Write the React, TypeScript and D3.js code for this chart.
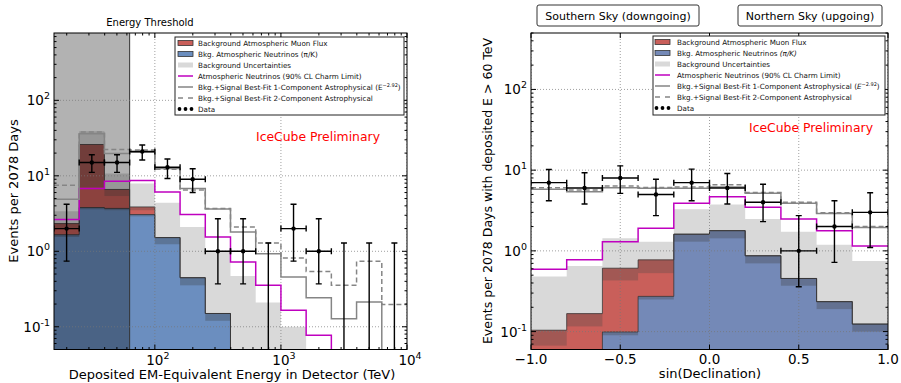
import * as d3 from "d3";

// ---------- left panel: deposited energy (TeV), 0.2-decade bins ----------
const energyEdges = [15.85, 25.12, 39.81, 63.1, 100, 158.5, 251.2, 398.1, 631, 1000, 1585, 2512, 3981, 6310, 10000];
const eNuHi = [1.66, 3.8, 3.7, 3.07, 1.52, 0.447, 0.15, 0, 0, 0, 0, 0, 0, 0];
const eNuLo = [1.55, 3.6, 3.5, 2.9, 1.24, 0.354, 0.12, 0, 0, 0, 0, 0, 0, 0];
const eTotHi = [2.33, 26, 6.6, 3.87, 1.52, 0.447, 0.15, 0, 0, 0, 0, 0, 0, 0];
const eTotLo = [1.98, 7, 5.4, 3.5, 1.24, 0.354, 0.12, 0, 0, 0, 0, 0, 0, 0];
const eUnc = [3.4, 39, 10.7, 7.9, 4.4, 2.1, 1.0, 0.47, 0.21, 0.1, 0.04, 0.02, 0.01, 0.01];
const eCharm = [2.63, 6.8, 8.5, 8.65, 6.1, 3.07, 1.55, 0.72, 0.354, 0.165, 0.077, 0.03, 0.015, 0.008];
const eFit1 = [4.9, 36, 19.8, 20.5, 12.5, 6.8, 3.64, 1.8, 0.93, 0.456, 0.243, 0.128, 0.213, 0.02];
const eFit2 = [7.5, 38, 22.3, 22, 12.2, 6.5, 3.7, 2.1, 1.29, 0.815, 0.54, 0.354, 0.737, 0.198];
const eData = [2, 15, 15, 21, 13, 9, 1, 1, 0, 2, 1, 0, 0, 0];
const eErrLo = [0.74, 11.1, 11.1, 16.2, 9.2, 6.0, 0.37, 0.37, 0, 0.74, 0.37, 0, 0, 0];
const eErrHi = [4.2, 19, 19, 25.6, 16.7, 12.4, 2.7, 2.7, 1.29, 4.2, 2.7, 1.29, 1.29, 1.29];
const energyThreshold = 63.1;
const eXTicks = [100, 1000, 10000];

// ---------- right panel: sin(declination) ----------
const decEdges = [-1, -0.8, -0.6, -0.4, -0.2, 0, 0.2, 0.4, 0.6, 0.8, 1];
const dNuHi = [0, 0, 0.099, 0.273, 1.61, 1.78, 0.87, 0.455, 0.235, 0.124];
const dNuLo = [0, 0, 0.09, 0.25, 1.3, 1.43, 0.7, 0.37, 0.19, 0.1];
const dTotHi = [0.104, 0.167, 0.61, 0.774, 1.61, 1.78, 0.87, 0.455, 0.235, 0.124];
const dTotLo = [0.067, 0.116, 0.43, 0.53, 1.3, 1.43, 0.7, 0.37, 0.19, 0.1];
const dUnc = [0.48, 0.65, 1.43, 1.3, 3.27, 3.75, 2.48, 1.73, 1.19, 0.75];
const dCharm = [0.59, 0.774, 1.3, 1.9, 3.88, 4.68, 3.46, 2.48, 1.78, 1.15];
const dFit1 = [5.78, 5.4, 6.05, 5.95, 5.95, 6.2, 5.16, 3.88, 2.9, 1.95];
const dFit2 = [6.05, 5.66, 6.35, 6.1, 6.2, 6.6, 5.3, 4.0, 2.97, 2.0];
const dData = [7, 6, 8, 5, 7, 6, 4, 1, 2, 3];
const dErrLo = [4.17, 3.8, 5.16, 2.73, 4.17, 3.8, 2.3, 0.36, 0.72, 1.1];
const dErrHi = [10.2, 9.3, 11.3, 7.7, 10.3, 9.1, 6.7, 2.73, 4.17, 5.25];
const dXTicks = [-1, -0.5, 0, 0.5, 1];

const yExponents = [-1, 0, 1, 2];
const legendLabels = [
  "Background Atmospheric Muon Flux",
  "Bkg. Atmospheric Neutrinos ",
  "Background Uncertainties",
  "Atmospheric Neutrinos (90% CL Charm Limit)",
  "Bkg.+Signal Best-Fit 1-Component Astrophysical (",
  "Bkg.+Signal Best-Fit 2-Component Astrophysical",
  "Data",
];

const FONT = "'DejaVu Sans', 'Bitstream Vera Sans', sans-serif";
const TOP = 33, BOT = 349.5;
const RED = "#c95f5a", GREY_BAND = "#d9d9d9", MAGENTA = "#bf00bf", FIT = "#858585";

interface S {
  nuHi: number[]; nuLo: number[]; totHi: number[]; totLo: number[];
  unc: number[]; charm: number[]; fit1: number[]; fit2: number[];
  data: number[]; lo: number[]; hi: number[];
}

function Panel({ x, y, edges, centers, s, blue, id, logX, threshold }: {
  x: any; y: d3.ScaleLogarithmic<number, number>; edges: number[]; centers: number[];
  s: S; blue: string; id: string; logX: boolean; threshold?: number;
}) {
  const [L, R] = x.range() as number[];
  const below = BOT + 30;
  const yv = (v: number) => (v > 0 ? Math.min(y(v), below) : below);
  const step = (vals: number[]) =>
    vals.map((v, i) => (i ? `V${yv(v)}` : `M${x(edges[0])},${yv(v)}`) + `H${x(edges[i + 1])}`).join("");
  const area = (vals: number[]) =>
    `M${x(edges[0])},${below}` + vals.map((v, i) => `V${yv(v)}H${x(edges[i + 1])}`).join("") + `V${below}Z`;
  const bands = (hi: number[], lo: number[], fill: string, op: number) =>
    hi.map((h, i) =>
      h > 0 && h > lo[i] ? (
        <rect key={i} x={x(edges[i])} width={x(edges[i + 1]) - x(edges[i])} y={yv(h)}
          height={yv(lo[i]) - yv(h)} fill={fill} opacity={op} />
      ) : null);

  // tick positions
  const [d0, d1] = y.domain();
  const yMajor = yExponents.map(e => Math.pow(10, e)).filter(v => v >= d0 && v <= d1);
  const yMinor: number[] = [];
  for (let e = -2; e <= 3; e++) for (let m = 2; m <= 9; m++) {
    const v = m * Math.pow(10, e);
    if (v >= d0 && v <= d1) yMinor.push(v);
  }
  const xDom = x.domain() as number[];
  const xMajor = logX ? eXTicks : dXTicks;
  const xMinor: number[] = [];
  if (logX) for (let e = 1; e <= 3; e++) for (let m = 2; m <= 9; m++) {
    const v = m * Math.pow(10, e);
    if (v >= xDom[0] && v <= xDom[1]) xMinor.push(v);
  }

  const cap = 3;
  return (
    <g>
      <defs>
        <clipPath id={id}><rect x={L} y={TOP} width={R - L} height={BOT - TOP} /></clipPath>
      </defs>
      <rect x={L} y={TOP} width={R - L} height={BOT - TOP} fill="#fff" />
      <g clipPath={`url(#${id})`}>
        <path d={area(s.unc)} fill={GREY_BAND} />
        <path d={area(s.totHi)} fill={RED} />
        {bands(s.totHi, s.totLo, "#4a4a4a", 0.3)}
        <path d={area(s.nuHi)} fill={blue} />
        {bands(s.nuHi, s.nuLo, "#3a3a3a", 0.3)}
        <path d={step(s.totHi)} fill="none" stroke="#333" strokeOpacity={0.75} strokeWidth={1} />
        <path d={step(s.nuHi)} fill="none" stroke="#333" strokeOpacity={0.75} strokeWidth={1} />
        {threshold !== undefined && (
          <g>
            <rect x={L} y={TOP} width={x(threshold) - L} height={BOT - TOP} fill="#000" opacity={0.3} />
            <line x1={x(threshold)} x2={x(threshold)} y1={TOP} y2={BOT} stroke="#333" strokeWidth={1} />
          </g>
        )}
        {yMajor.map(v => (
          <line key={"gy" + v} x1={L} x2={R} y1={y(v)} y2={y(v)} stroke="#777" strokeWidth={0.7} strokeDasharray="1,2" />
        ))}
        {xMajor.map(v => (
          <line key={"gx" + v} x1={x(v)} x2={x(v)} y1={TOP} y2={BOT} stroke="#777" strokeWidth={0.7} strokeDasharray="1,2" />
        ))}
        <path d={step(s.charm)} fill="none" stroke={MAGENTA} strokeWidth={1.5} />
        <path d={step(s.fit1)} fill="none" stroke={FIT} strokeWidth={1.5} />
        <path d={step(s.fit2)} fill="none" stroke={FIT} strokeWidth={1.5} strokeDasharray="5,3" />
        {s.data.map((d, i) => {
          const cx = x(centers[i]);
          const yt = y(s.hi[i]);
          if (d === 0) {
            return (
              <g key={"d" + i} stroke="#000" strokeWidth={1.4}>
                <line x1={cx} x2={cx} y1={below} y2={yt} />
                <line x1={cx - cap} x2={cx + cap} y1={yt} y2={yt} />
              </g>
            );
          }
          const yb = y(s.lo[i]), yc = y(d), xa = x(edges[i]), xb = x(edges[i + 1]);
          return (
            <g key={"d" + i} stroke="#000" strokeWidth={1.4}>
              <line x1={xa} x2={xb} y1={yc} y2={yc} />
              <line x1={xa} x2={xa} y1={yc - cap} y2={yc + cap} />
              <line x1={xb} x2={xb} y1={yc - cap} y2={yc + cap} />
              <line x1={cx} x2={cx} y1={yb} y2={yt} />
              <line x1={cx - cap} x2={cx + cap} y1={yt} y2={yt} />
              <line x1={cx - cap} x2={cx + cap} y1={yb} y2={yb} />
              <circle cx={cx} cy={yc} r={2.2} fill="#000" stroke="none" />
            </g>
          );
        })}
      </g>
      {/* ticks */}
      <g stroke="#000" strokeWidth={1}>
        {yMajor.map(v => (
          <g key={"ty" + v}>
            <line x1={L} x2={L + 5} y1={y(v)} y2={y(v)} />
            <line x1={R} x2={R - 5} y1={y(v)} y2={y(v)} />
          </g>
        ))}
        {yMinor.map(v => (
          <g key={"tmy" + v}>
            <line x1={L} x2={L + 2.5} y1={y(v)} y2={y(v)} />
            <line x1={R} x2={R - 2.5} y1={y(v)} y2={y(v)} />
          </g>
        ))}
        {xMajor.map(v => (
          <g key={"tx" + v}>
            <line x1={x(v)} x2={x(v)} y1={BOT} y2={BOT - 5} />
            <line x1={x(v)} x2={x(v)} y1={TOP} y2={TOP + 5} />
          </g>
        ))}
        {xMinor.map(v => (
          <g key={"tmx" + v}>
            <line x1={x(v)} x2={x(v)} y1={BOT} y2={BOT - 2.5} />
            <line x1={x(v)} x2={x(v)} y1={TOP} y2={TOP + 2.5} />
          </g>
        ))}
      </g>
      <rect x={L} y={TOP} width={R - L} height={BOT - TOP} fill="none" stroke="#000" strokeWidth={1} />
      {/* tick labels */}
      <g fontSize={13.5} fill="#000">
        {yMajor.map(v => (
          <text key={"ly" + v} x={L - 4} y={y(v) + 5} textAnchor="end">
            10<tspan dy={-6} fontSize={9.5}>{Math.round(Math.log10(v)) < 0 ? "-" + Math.abs(Math.round(Math.log10(v))) : Math.round(Math.log10(v))}</tspan>
          </text>
        ))}
        {logX
          ? xMajor.map(v => (
            <text key={"lx" + v} x={x(v) + 3} y={BOT + 15} textAnchor="middle">
              10<tspan dy={-6} fontSize={9.5}>{Math.round(Math.log10(v))}</tspan>
            </text>
          ))
          : xMajor.map(v => (
            <text key={"lx" + v} x={x(v)} y={BOT + 14} textAnchor="middle">
              {(v < 0 ? "\u2212" : "") + Math.abs(v).toFixed(1)}
            </text>
          ))}
      </g>
    </g>
  );
}

function Legend({ x0, y0, w, h, hx, tx, blue, italic }: {
  x0: number; y0: number; w: number; h: number; hx: number; tx: number; blue: string; italic: boolean;
}) {
  const rowY = (i: number) => y0 + 6 + i * 11;
  return (
    <g fontSize={7.2} fill="#111">
      <rect x={x0} y={y0} width={w} height={h} fill="#fff" stroke="#222" strokeWidth={1} />
      <rect x={hx} y={rowY(0) - 2.5} width={15} height={5} fill={RED} stroke="#333" strokeWidth={0.8} />
      <rect x={hx} y={rowY(1) - 2.5} width={15} height={5} fill={blue} stroke="#333" strokeWidth={0.8} />
      <rect x={hx} y={rowY(2) - 2.5} width={15} height={5} fill={GREY_BAND} />
      <line x1={hx} x2={hx + 15} y1={rowY(3)} y2={rowY(3)} stroke={MAGENTA} strokeWidth={1.5} />
      <line x1={hx} x2={hx + 15} y1={rowY(4)} y2={rowY(4)} stroke={FIT} strokeWidth={1.5} />
      <line x1={hx} x2={hx + 15} y1={rowY(5)} y2={rowY(5)} stroke={FIT} strokeWidth={1.5} strokeDasharray="5,5" />
      {[0, 1, 2].map(k => <circle key={k} cx={hx + 1.5 + k * 6} cy={rowY(6)} r={1.9} fill="#000" />)}
      {legendLabels.map((t, i) => (
        <text key={i} x={tx} y={rowY(i) + 2.5}>
          {t}
          {i === 1 && <tspan fontStyle={italic ? "italic" : "normal"}>(π/K)</tspan>}
          {i === 4 && (
            <>
              <tspan fontStyle={italic ? "italic" : "normal"}>E</tspan>
              <tspan dy={-3} fontSize={5}>−2.92</tspan>
              <tspan dy={3}>)</tspan>
            </>
          )}
        </text>
      ))}
    </g>
  );
}

export default function App() {
  const xE = d3.scaleLog().domain([energyEdges[0], energyEdges[energyEdges.length - 1]]).range([54, 407]);
  const yE = d3.scaleLog().domain([0.05, 780]).range([BOT, TOP]);
  const xD = d3.scaleLinear().domain([-1, 1]).range([531, 888]);
  const yD = d3.scaleLog().domain([0.06, 500]).range([BOT, TOP]);

  const eCenters = energyEdges.slice(0, -1).map((e, i) => Math.sqrt(e * energyEdges[i + 1]));
  const dCenters = decEdges.slice(0, -1).map((e, i) => (e + decEdges[i + 1]) / 2);

  const sE: S = { nuHi: eNuHi, nuLo: eNuLo, totHi: eTotHi, totLo: eTotLo, unc: eUnc, charm: eCharm,
    fit1: eFit1, fit2: eFit2, data: eData, lo: eErrLo, hi: eErrHi };
  const sD: S = { nuHi: dNuHi, nuLo: dNuLo, totHi: dTotHi, totLo: dTotLo, unc: dUnc, charm: dCharm,
    fit1: dFit1, fit2: dFit2, data: dData, lo: dErrLo, hi: dErrHi };

  const blueL = "#6b8ebf", blueR = "#7489b7";

  return (
    <div style={{ position: "absolute", left: 0, top: 0 }}>
      <svg width={901} height={383} style={{ display: "block", background: "#fff" }} fontFamily={FONT}>
        <Panel x={xE} y={yE} edges={energyEdges} centers={eCenters} s={sE} blue={blueL} id="clipE" logX threshold={energyThreshold} />
        <Panel x={xD} y={yD} edges={decEdges} centers={dCenters} s={sD} blue={blueR} id="clipD" logX={false} />

        <Legend x0={175} y0={37} w={229} h={78} hx={178} tx={198} blue={blueL} italic={false} />
        <Legend x0={653} y0={36} w={232} h={79} hx={655} tx={677} blue={blueR} italic />

        <text x={150} y={26} fontSize={10} textAnchor="middle">Energy Threshold</text>

        <g fontSize={11}>
          <rect x={537} y={5} width={162} height={21} rx={2} fill="#fff" stroke="#333" />
          <text x={618} y={20} textAnchor="middle">Southern Sky (downgoing)</text>
          <rect x={738} y={5} width={144} height={21} rx={2} fill="#fff" stroke="#333" />
          <text x={810} y={20} textAnchor="middle">Northern Sky (upgoing)</text>
        </g>

        <text x={318} y={140.5} fontSize={12.4} fill="#ff0000" textAnchor="middle">IceCube Preliminary</text>
        <text x={811} y={131.5} fontSize={12.4} fill="#ff0000" textAnchor="middle">IceCube Preliminary</text>

        <g fontSize={13}>
          <text x={232} y={379} textAnchor="middle">Deposited EM-Equivalent Energy in Detector (TeV)</text>
          <text x={710} y={378} textAnchor="middle">sin(Declination)</text>
          <text transform="translate(17.5,191) rotate(-90)" textAnchor="middle">Events per 2078 Days</text>
          <text transform="translate(492,191) rotate(-90)" fontSize={12.5} textAnchor="middle">Events per 2078 Days with deposited E &gt; 60 TeV</text>
        </g>
      </svg>
    </div>
  );
}
